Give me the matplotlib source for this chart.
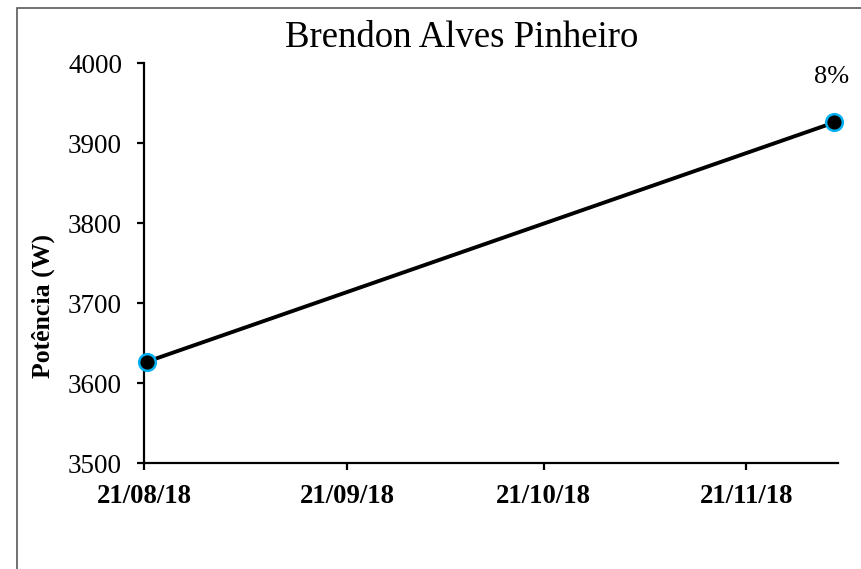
# Power evolution chart for one athlete
import matplotlib
matplotlib.use("Agg")
import matplotlib.pyplot as plt
import matplotlib.dates as mdates
from matplotlib.patches import Rectangle
import numpy as np

plt.rcParams['font.family'] = ['Liberation Serif', 'DejaVu Serif']

athlete = "Brendon Alves Pinheiro"
test_dates = ["2018-08-21", "2018-12-04"]
power_w = [3627, 3926]
tick_dates = ["2018-08-21", "2018-09-21", "2018-10-21", "2018-11-21"]
x_range = ["2018-08-21", "2018-12-05"]
y_ticks = [3500, 3600, 3700, 3800, 3900, 4000]

dates = np.array(test_dates, dtype="datetime64[D]")
# points sit in the middle of their day on the date axis
x_pts = dates.astype("datetime64[h]") + np.timedelta64(10, "h")
x_pts = mdates.date2num(x_pts.astype(object))

fig = plt.figure(figsize=(8.61, 5.69), dpi=100)
ax = fig.add_axes([0.1676, 0.1858, 0.8057, 0.7030])

ax.plot(x_pts, power_w, color="black", linewidth=2.8, zorder=2)
ax.plot(x_pts, power_w, linestyle="none", marker="o", markersize=12,
        markerfacecolor="black", markeredgecolor="#00B0F0",
        markeredgewidth=1.8, zorder=3, clip_on=False)

gain = (power_w[-1] / power_w[0] - 1) * 100
ax.annotate(f"{gain:.0f}%", (x_pts[-1], power_w[-1]), xytext=(-2, 28.5),
            textcoords="offset points", ha="center", va="baseline",
            fontsize=19)

ax.set_xlim(mdates.datestr2num(x_range[0]), mdates.datestr2num(x_range[1]))
ax.set_ylim(y_ticks[0], y_ticks[-1])
ax.set_xticks([mdates.datestr2num(d) for d in tick_dates])
ax.xaxis.set_major_formatter(mdates.DateFormatter("%d/%m/%y"))
ax.set_yticks(y_ticks)

for s in ["top", "right"]:
    ax.spines[s].set_visible(False)
for s in ["left", "bottom"]:
    ax.spines[s].set_linewidth(1.6)
ax.tick_params(axis="both", direction="out", length=5, width=1.6, color="black")
ax.tick_params(axis="y", labelsize=19.5, pad=11)
ax.tick_params(axis="x", labelsize=19.3, pad=10)
for lab in ax.get_xticklabels():
    lab.set_fontweight("bold")

fig.text(462 / 861, 1 - 47 / 569, athlete, ha="center", va="baseline", fontsize=26.5)
fig.text(43 / 861, 1 - 306 / 569, "Potência (W)", rotation=90, ha="center",
         va="center", fontsize=18.5, fontweight="bold")

# chart frame
fig.patches.append(Rectangle((17 / 861, -0.1), 1.2, 1 - 8 / 569 + 0.1,
                             transform=fig.transFigure, fill=False,
                             edgecolor="#595959", linewidth=1.2))

fig.savefig("out.png", dpi=100)
